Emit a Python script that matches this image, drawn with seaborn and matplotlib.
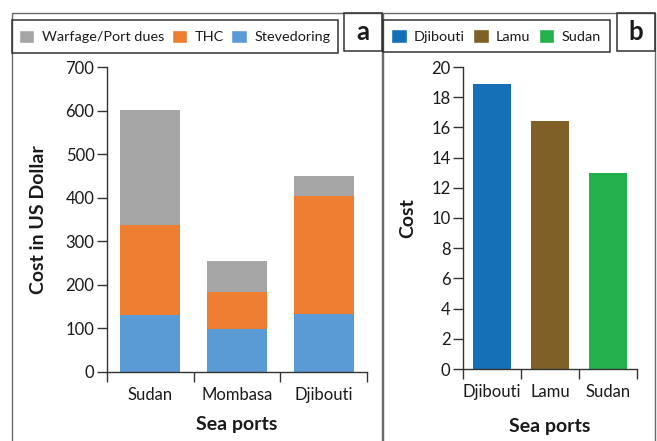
import matplotlib
matplotlib.use("Agg")
import matplotlib.pyplot as plt
from matplotlib.patches import Rectangle, Patch
import numpy as np
import pandas as pd
import seaborn as sns

# Panel a: port handling costs (US$) by component
ports_a = ["Sudan", "Mombasa", "Djibouti"]
stevedoring = [130, 98, 133]
thc = [207, 86, 271]
warfage = [265, 71, 46]

# Panel b: overall cost index by port
ports_b = ["Djibouti", "Lamu", "Sudan"]
cost_b = [18.9, 16.4, 13.0]

c_war, c_thc, c_ste = "#A5A5A5", "#ED7D31", "#5B9BD5"
colors_b = ["#1570B8", "#7F6128", "#22B14C"]

sns.set_style("white")
plt.rcParams["font.family"] = ["Lato", "DejaVu Sans"]
TXT = "#1a1a1a"

W, H = 657, 441
fig = plt.figure(figsize=(W / 100, H / 100), dpi=100)


def fx(px):
    return px / W


def fy(py):
    return 1 - py / H


def box(x0, y0, x1, y1, lw=1.0, color="#404040"):
    fig.add_artist(Rectangle((fx(x0), fy(y1)), fx(x1) - fx(x0), fy(y0) - fy(y1),
                             transform=fig.transFigure, fill=False,
                             edgecolor=color, linewidth=lw, clip_on=False))


# ---- panel a: stacked bars (cumulative layers drawn back to front)
ax1 = fig.add_axes([fx(107), fy(372), fx(367) - fx(107), fy(67) - fy(372)])
df_a = pd.DataFrame({"port": ports_a, "ste": stevedoring, "thc": thc, "war": warfage})
df_a["lvl2"] = df_a["ste"] + df_a["thc"]
df_a["lvl3"] = df_a["lvl2"] + df_a["war"]
for col, c in [("lvl3", c_war), ("lvl2", c_thc), ("ste", c_ste)]:
    sns.barplot(data=df_a, x="port", y=col, color=c, width=0.69,
                saturation=1, ax=ax1, order=ports_a, linewidth=0,
                edgecolor="none")

ax1.set_ylim(0, 700)
ax1.set_yticks(np.arange(0, 701, 100))
ax1.set_xlim(-0.5, 2.5)

# ---- panel b: simple bars
ax2 = fig.add_axes([fx(463), fy(369), fx(637) - fx(463), fy(67) - fy(369)])
df_b = pd.DataFrame({"port": ports_b, "cost": cost_b})
sns.barplot(data=df_b, x="port", y="cost", hue="port", palette=colors_b,
            width=0.67, saturation=1, ax=ax2, order=ports_b, legend=False,
            linewidth=0, edgecolor="none")
ax2.set_ylim(0, 20)
ax2.set_yticks(np.arange(0, 21, 2))
ax2.set_xlim(-0.5, 2.5)

for ax, ylab, lx, xl in [(ax1, "Cost in US Dollar", -0.23, -0.145),
                         (ax2, "Cost", -0.27, -0.163)]:
    for s in ["top", "right"]:
        ax.spines[s].set_visible(False)
    for s in ["left", "bottom"]:
        ax.spines[s].set_color("#333333")
        ax.spines[s].set_linewidth(1.0)
    ax.set_xticks([-0.5, 0.5, 1.5, 2.5], minor=True)
    ax.tick_params(axis="x", which="minor", length=7, width=1.0, color="#333333",
                   direction="out", bottom=True)
    ax.tick_params(axis="x", which="major", length=0, pad=11, labelsize=12,
                   labelcolor=TXT)
    ax.tick_params(axis="y", length=7, width=1.0, color="#333333", direction="out",
                   left=True, labelsize=12, labelcolor=TXT, pad=2)
    ax.set_ylabel(ylab, fontsize=14, fontweight="bold", color=TXT)
    ax.yaxis.set_label_coords(lx, 0.5)
    ax.set_xlabel("Sea ports", fontsize=14, fontweight="bold", color=TXT)
    ax.xaxis.set_label_coords(0.5, xl)
    ax.grid(False)

# ---- panel frames, legends and letters
box(12, 13, 382, 470, lw=1.0, color="#6a6a6a")
box(383, 13, 655, 470, lw=1.0, color="#6a6a6a")

box(12, 20, 338, 53, lw=1.1, color="#333333")
box(344, 13, 382, 51, lw=1.1, color="#333333")
box(383, 20, 610, 52, lw=1.1, color="#333333")
box(617, 13, 655, 51, lw=1.1, color="#333333")

fig.text(fx(363), fy(32), "a", ha="center", va="center", fontsize=18.5,
         fontweight="bold", color=TXT)
fig.text(fx(636), fy(32), "b", ha="center", va="center", fontsize=18.5,
         fontweight="bold", color=TXT)

h_a = [Patch(facecolor=c) for c in (c_war, c_thc, c_ste)]
fig.legend(h_a, ["Warfage/Port dues", "THC", "Stevedoring"], ncol=3,
           loc="center", bbox_to_anchor=(fx(175), fy(36.5)), frameon=False,
           fontsize=10.4, handlelength=1.05, handleheight=1.05, handletextpad=0.55,
           columnspacing=0.5, labelcolor=TXT)
h_b = [Patch(facecolor=c) for c in colors_b]
fig.legend(h_b, ports_b, ncol=3, loc="center",
           bbox_to_anchor=(fx(496), fy(36)), frameon=False,
           fontsize=10.4, handlelength=1.05, handleheight=1.05, handletextpad=0.5,
           columnspacing=0.6, labelcolor=TXT)

fig.savefig("out.png", dpi=100)
